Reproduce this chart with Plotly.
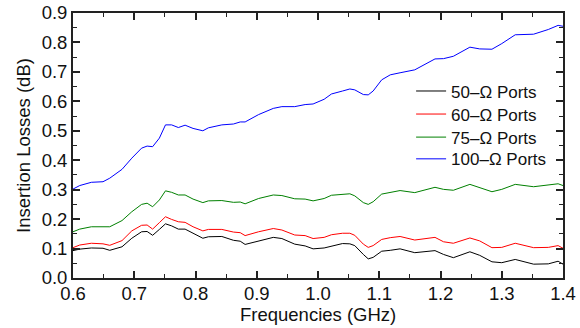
import plotly.graph_objects as go

freq = [0.600, 0.611, 0.630, 0.649, 0.660, 0.680, 0.696, 0.712, 0.721, 0.730,
        0.741, 0.751, 0.761, 0.772, 0.783, 0.796, 0.812, 0.821, 0.843, 0.862,
        0.873, 0.881, 0.903, 0.927, 0.941, 0.962, 0.979, 0.992, 1.010, 1.022,
        1.040, 1.052, 1.060, 1.074, 1.082, 1.090, 1.104, 1.118, 1.134, 1.158,
        1.191, 1.205, 1.221, 1.248, 1.264, 1.284, 1.300, 1.322, 1.352, 1.376,
        1.392, 1.400]

loss_50 = [0.093, 0.098, 0.102, 0.101, 0.094, 0.106, 0.135, 0.157, 0.158, 0.145,
           0.165, 0.184, 0.177, 0.166, 0.166, 0.152, 0.135, 0.140, 0.141, 0.128,
           0.125, 0.114, 0.126, 0.138, 0.134, 0.115, 0.109, 0.099, 0.102, 0.109,
           0.117, 0.116, 0.110, 0.080, 0.065, 0.070, 0.091, 0.094, 0.099, 0.086,
           0.093, 0.080, 0.069, 0.089, 0.077, 0.055, 0.052, 0.063, 0.047, 0.048,
           0.057, 0.047]

loss_60 = [0.103, 0.112, 0.118, 0.116, 0.111, 0.127, 0.160, 0.179, 0.180, 0.166,
           0.188, 0.208, 0.199, 0.191, 0.189, 0.174, 0.160, 0.165, 0.165, 0.156,
           0.154, 0.144, 0.157, 0.168, 0.163, 0.146, 0.144, 0.134, 0.138, 0.147,
           0.152, 0.152, 0.145, 0.115, 0.104, 0.110, 0.131, 0.137, 0.141, 0.129,
           0.138, 0.123, 0.118, 0.136, 0.126, 0.103, 0.104, 0.118, 0.103, 0.104,
           0.110, 0.101]

loss_75 = [0.157, 0.166, 0.174, 0.174, 0.174, 0.195, 0.225, 0.250, 0.254, 0.242,
           0.265, 0.296, 0.291, 0.282, 0.282, 0.268, 0.256, 0.262, 0.263, 0.257,
           0.258, 0.252, 0.270, 0.282, 0.280, 0.269, 0.268, 0.262, 0.270, 0.281,
           0.285, 0.286, 0.279, 0.256, 0.250, 0.259, 0.285, 0.291, 0.297, 0.290,
           0.308, 0.301, 0.298, 0.318, 0.308, 0.293, 0.301, 0.318, 0.310, 0.315,
           0.320, 0.314]

loss_100 = [0.302, 0.314, 0.325, 0.327, 0.339, 0.369, 0.407, 0.441, 0.448, 0.446,
            0.475, 0.520, 0.520, 0.511, 0.519, 0.508, 0.500, 0.510, 0.520, 0.523,
            0.530, 0.530, 0.555, 0.576, 0.582, 0.582, 0.589, 0.591, 0.607, 0.625,
            0.635, 0.642, 0.639, 0.623, 0.622, 0.635, 0.673, 0.690, 0.697, 0.707,
            0.744, 0.745, 0.753, 0.784, 0.778, 0.777, 0.796, 0.826, 0.828, 0.844,
            0.858, 0.855]

series_names = ["50\u2013\u03a9 Ports", "60\u2013\u03a9 Ports",
                "75\u2013\u03a9 Ports", "100\u2013\u03a9 Ports"]
series_colors = ["#000000", "#ff0000", "#008000", "#0000ff"]
series_values = [loss_50, loss_60, loss_75, loss_100]

x_ticks = [0.6, 0.7, 0.8, 0.9, 1.0, 1.1, 1.2, 1.3, 1.4]
y_ticks = [0.0, 0.1, 0.2, 0.3, 0.4, 0.5, 0.6, 0.7, 0.8, 0.9]

x_title = "Frequencies (GHz)"
y_title = "Insertion Losses (dB)"

FONT = "Liberation Sans, Arial, Helvetica, sans-serif"
FS = 18.5

legend_ids = ["legend", "legend2", "legend3", "legend4"]
legend_rows_y = [0.704, 0.617, 0.530, 0.448]

fig = go.Figure()
for name, color, vals, lid in zip(series_names, series_colors, series_values, legend_ids):
    fig.add_trace(go.Scatter(x=freq, y=vals, mode="lines", name=name,
                             line=dict(color=color, width=1), legend=lid))

axis_common = dict(
    showline=True, linecolor="#222222", linewidth=1.8, mirror="ticks",
    ticks="inside", ticklen=7, tickwidth=1.5, tickcolor="#222222",
    showgrid=False, zeroline=False, automargin=False,
    tickfont=dict(family=FONT, size=FS, color="#111111"),
)

legend_layouts = {}
for lid, ly in zip(legend_ids, legend_rows_y):
    legend_layouts[lid] = dict(
        x=0.69, y=ly, xanchor="left", yanchor="middle",
        bgcolor="rgba(0,0,0,0)", borderwidth=0,
        font=dict(family=FONT, size=17, color="#111111"),
        itemwidth=30)

fig.update_layout(
    width=580, height=328,
    margin=dict(l=73, r=17, t=13, b=50),
    paper_bgcolor="white", plot_bgcolor="white",
    font=dict(family=FONT, size=FS, color="#111111"),
    xaxis=dict(range=[0.6, 1.4], tickvals=x_ticks, tickformat=".1f",
               ticklabelstandoff=-2,
               minor=dict(ticks="inside", ticklen=4, tickwidth=1.3,
                          tickcolor="#222222", dtick=0.05, tick0=0.6),
               **axis_common),
    yaxis=dict(range=[0.0, 0.9], tickvals=y_ticks, tickformat=".1f",
               title=dict(text=y_title, standoff=6,
                          font=dict(family=FONT, size=FS)),
               minor=dict(ticks="inside", ticklen=4, tickwidth=1.3,
                          tickcolor="#222222", dtick=0.05, tick0=0.0),
               **axis_common),
    showlegend=True,
    annotations=[dict(text=x_title, xref="paper", yref="paper", x=0.5, y=0,
                      xanchor="center", yanchor="middle", yshift=-36,
                      showarrow=False,
                      font=dict(family=FONT, size=FS, color="#111111"))],
    **legend_layouts,
)

fig.write_html("out.html")
